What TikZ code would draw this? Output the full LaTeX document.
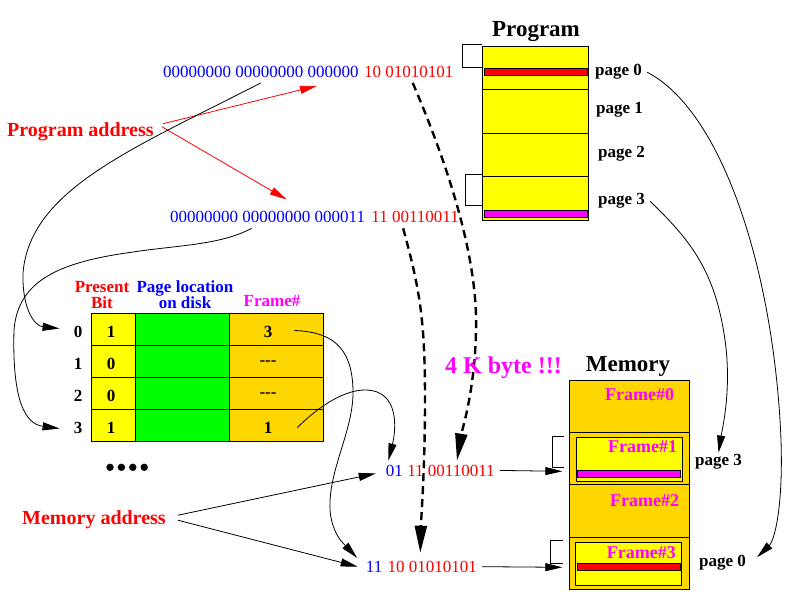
\documentclass[tikz,border=0pt]{standalone}
\usepackage{fontspec}
\setmainfont{Liberation Serif}
\usetikzlibrary{arrows.meta, positioning}
\usepackage{xcolor}
\definecolor{gold}{RGB}{255,215,0}
\definecolor{pyel}{RGB}{255,255,0}
\definecolor{pmag}{RGB}{255,0,255}
\definecolor{pgrn}{RGB}{0,255,0}
\newcommand{\nofr}{-{}-{}-}

\tikzset{
  addr/.style={inner sep=0pt, font=\fontsize{17}{17}\selectfont},
  lbl/.style={inner sep=0pt, font=\bfseries\fontsize{17}{16}\selectfont},
  head/.style={inner sep=0pt, font=\bfseries\fontsize{23}{23}\selectfont},
  note/.style={inner sep=0pt, red, font=\bfseries\fontsize{20}{20}\selectfont},
  framelbl/.style={inner sep=0pt, pmag, anchor=base west, font=\bfseries\fontsize{18}{18}\selectfont},
  frm/.style={draw, line width=1pt, fill=gold, minimum width=120pt, outer sep=0pt, inner sep=0pt},
  link/.style={line width=0.8pt, -{Triangle[length=17pt,width=8pt]}},
  jump/.style={line width=2.4pt, dash pattern=on 8pt off 5pt, -{Triangle[length=27pt,width=12pt]}},
  rim/.style={line width=1pt}
}

\begin{document}
\begin{tikzpicture}[x=1pt, y=-1pt]
\useasboundingbox (0,0) rectangle (792,612);

\node[head, anchor=base] (progt) at (536,37) {Program};
\draw[rim, fill=pyel] (482,47) rectangle (588,221);
\foreach \y in {90,134,177} \draw[rim] (482,\y) -- (588,\y);
\draw[rim, fill=red] (484,69) rectangle (587,76);
\draw[rim, fill=pmag] (484,211) rectangle (587,218);
\draw[rim] (482,45) -- (462,45) -- (462,68) -- (482,68);
\draw[rim] (482,175) -- (465,175) -- (465,206) -- (482,206);
\node[lbl, anchor=base west] (pg0) at (595,76) {page 0};
\node[lbl, anchor=base west] (pg1) at (596,114) {page 1};
\node[lbl, anchor=base west] (pg2) at (598,158) {page 2};
\node[lbl, anchor=base west] (pg3) at (598,205) {page 3};

\node[addr, blue, anchor=base west] (a1hi) at (163,77.5) {00000000 00000000 000000};
\node[addr, red, right=5pt of a1hi] (a1lo) {10 01010101};
\node[addr, blue, anchor=base west] (a2hi) at (170,223) {00000000 00000000 000011};
\node[addr, red, right=6pt of a2hi] (a2lo) {11 00110011};

\node[note, anchor=base west] (pa) at (7,136.5) {Program address};
\draw[link, red] ([xshift=9pt,yshift=8pt]pa.east) -- ([xshift=56pt,yshift=-8pt]a1hi.south);
\draw[link, red] ([xshift=8pt,yshift=5pt]pa.east) -- ([xshift=19pt,yshift=12pt]a2hi.north);

\node[lbl, red, align=center, anchor=north] (pbit) at (102,281) {Present\\Bit};
\node[lbl, blue, align=center, anchor=north] (ploc) at (185,281) {Page location\\on disk};
\node[lbl, pmag, anchor=base] (pfr) at (272,306) {Frame\#};
\foreach \r in {0,...,3} {
  \draw[rim, fill=pyel] (91,313+32*\r) rectangle (135,345+32*\r);
  \draw[rim, fill=pgrn] (135,313+32*\r) rectangle (229,345+32*\r);
  \draw[rim, fill=gold] (229,313+32*\r) rectangle (323,345+32*\r);
}
\foreach \r/\p/\f in {0/1/3, 1/0/\nofr, 2/0/\nofr, 3/1/1} {
  \node[lbl] (r\r) at (78,331.5+32*\r) {\r};
  \node[lbl] (p\r) at (111,331.5+32*\r) {\p};
  \node[lbl] (f\r) at (268,331.5+32*\r) {\f};
}
\foreach \i in {0,...,3} \fill (110+11.4*\i,467.3) circle[radius=3.7pt];

\draw[link] ([yshift=-5pt]a1hi.south) .. controls (130,150) and (30,190) .. (23,273)
  .. controls (22,310) and (35,326) .. ([xshift=-14pt,yshift=3pt]r0.west);
\draw[link] ([xshift=-16pt,yshift=-5pt]a2hi.south) .. controls (220,245) and (180,245) .. (133,252)
  .. controls (60,262) and (18,280) .. (14,330)
  .. controls (12,400) and (25,424) .. ([xshift=-14pt,yshift=-1pt]r3.west);

\node[note, anchor=base west] (ma) at (22,524) {Memory address};
\node[addr, blue, anchor=base west] (m1hi) at (385.7,476) {01};
\node[addr, red, right=4pt of m1hi] (m1lo) {11 00110011};
\node[addr, blue, anchor=base west] (m2hi) at (365.7,572.3) {11};
\node[addr, red, right=5pt of m2hi] (m2lo) {10 01010101};
\draw[link] ([xshift=12pt,yshift=4pt]ma.east) -- ([xshift=-10pt,yshift=-3pt]m1hi.west);
\draw[link] ([xshift=12pt,yshift=-1pt]ma.east) -- ([xshift=-8pt]m2hi.west);

\draw[link] ([xshift=22pt,yshift=1pt]f0.east) .. controls (330,332) and (352,345) .. (353,390)
  .. controls (354,430) and (328,470) .. (330,510)
  .. controls (332,535) and (345,545) .. ([xshift=-17pt,yshift=3pt]m2hi.north);
\draw[link] ([xshift=25pt]f3.east) .. controls (320,405) and (345,390) .. (365,390)
  .. controls (400,390) and (396,430) .. ([xshift=-6pt,yshift=4pt]m1hi.north);

\draw[jump] ([xshift=4pt,yshift=-5pt]a1lo.south) .. controls (450,170) and (478,260) .. (476,330)
  .. controls (475,390) and (462,430) .. ([xshift=6pt,yshift=4pt]m1lo.north);
\draw[jump] ([xshift=-12pt,yshift=-5pt]a2lo.south) .. controls (420,290) and (425,320) .. (425,400)
  .. controls (425,470) and (421,520) .. ([xshift=-12pt,yshift=8pt]m2lo.north);

\node[note, pmag, anchor=base west, font=\bfseries\fontsize{24}{24}\selectfont] (kb) at (445,373.3) {4 K byte !!!};
\node[head, anchor=base] (memt) at (628,371) {Memory};
\node[frm, minimum height=52pt, anchor=north west] (fr0) at (569.3,380.3) {};
\node[frm, minimum height=52pt, below=0pt of fr0] (fr1) {};
\node[frm, minimum height=53pt, below=0pt of fr1] (fr2) {};
\node[frm, minimum height=52pt, below=0pt of fr2] (fr3) {};
\draw[rim, fill=pyel] (576,437.3) rectangle (682.7,481.7);
\draw[rim, fill=pmag] (577,470) rectangle (680,477.3);
\draw[rim, fill=pyel] (575.3,542.3) rectangle (681.7,585.7);
\draw[rim, fill=red] (577,563) rectangle (680,570.3);
\node[framelbl] (fl0) at (605,400.7) {Frame\#0};
\node[framelbl] (fl1) at (608,452.7) {Frame\#1};
\node[framelbl] (fl2) at (610,506.7) {Frame\#2};
\node[framelbl] (fl3) at (606.7,558.3) {Frame\#3};
\draw[rim] (564,436.7) -- (552.3,436.7) -- (552.3,467) -- (564,467);
\draw[rim] (562.7,540.3) -- (550,540.3) -- (550,563.3) -- (562.7,563.3);
\draw[link] ([xshift=5pt]m1lo.east) -- ([xshift=-7pt,yshift=-13pt]fr1.west);
\draw[link] ([xshift=5pt]m2lo.east) -- ([xshift=-7pt,yshift=-4pt]fr3.west);

\node[lbl, anchor=base west] (mp3) at (695,465) {page 3};
\node[lbl, anchor=base west] (mp0) at (699,566) {page 0};
\draw[link] ([xshift=5pt]pg0.east) .. controls (720,110) and (770,260) .. (780,420)
  .. controls (785,500) and (775,540) .. ([xshift=11pt,yshift=5pt]mp0.east);
\draw[link] ([xshift=5pt]pg3.east) .. controls (690,240) and (715,270) .. (725,340)
  .. controls (732,390) and (722,430) .. ([yshift=1pt]mp3.north);
\end{tikzpicture}
\end{document}
